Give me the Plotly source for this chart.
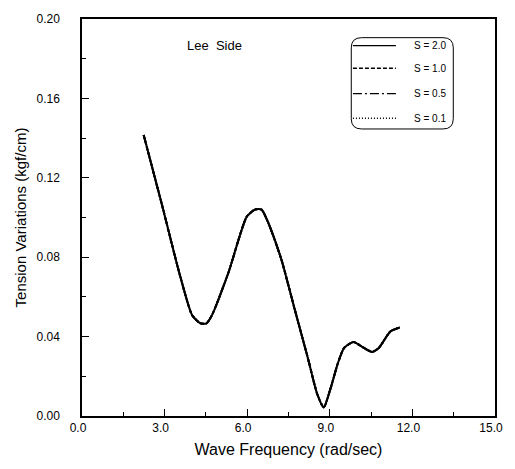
import plotly.graph_objects as go

# Data
freq = [2.24, 2.93, 3.53, 4.0, 4.3, 4.52, 4.72, 5.32, 5.98, 6.28, 6.52, 6.76, 7.24,
        7.72, 8.2, 8.54, 8.78, 9.04, 9.28, 9.52, 9.86, 10.24, 10.54, 10.78, 11.2, 11.54]
s20 = [0.1416, 0.105, 0.0723, 0.0508, 0.0467, 0.0467, 0.0508, 0.0723, 0.1003, 0.104,
       0.104, 0.0975, 0.0789, 0.054, 0.0294, 0.0112, 0.0043, 0.0145, 0.026, 0.0343,
       0.0373, 0.0343, 0.0323, 0.0343, 0.0426, 0.0446]
# the other series coincide with S = 2.0 in the picture
s10 = list(s20)
s05 = list(s20)
s01 = list(s20)

series_names = ["S = 2.0", "S = 1.0", "S = 0.5", "S = 0.1"]
series_vals = [s20, s10, s05, s01]
dashes = ["solid", "4px,2px", "9px,3px,2px,3px", "1px,2px"]

x_ticks = [0, 3, 6, 9, 12, 15]
x_ticklabels = ["0.0", "3.0", "6.0", "9.0", "12.0", "15.0"]
y_ticks = [0, 0.04, 0.08, 0.12, 0.16, 0.20]
y_ticklabels = ["0.00", "0.04", "0.08", "0.12", "0.16", "0.20"]

FONT = "Liberation Sans Narrow, Arial Narrow, Liberation Sans, Arial, sans-serif"
FONT2 = "Liberation Sans, Arial, sans-serif"

fig = go.Figure()
for i in reversed(range(4)):
    fig.add_trace(go.Scatter(
        x=freq, y=series_vals[i], mode="lines", name=series_names[i],
        line=dict(color="black", width=2, dash=dashes[i], shape="spline", smoothing=0.6),
        showlegend=False,
    ))

fig.update_layout(
    width=515, height=469,
    margin=dict(l=82, r=16, t=12, b=53),
    paper_bgcolor="white", plot_bgcolor="white",
    showlegend=False,
    font=dict(family=FONT2, color="black"),
)

fig.update_xaxes(
    range=[0, 15], tickvals=x_ticks, ticktext=x_ticklabels,
    showline=True, linecolor="black", linewidth=1.5, mirror=True,
    ticks="inside", ticklen=7, tickwidth=1.2, tickcolor="black",
    minor=dict(dtick=1.5, ticks="inside", ticklen=4, tickwidth=1, tickcolor="black"),
    showgrid=False, zeroline=False,
    tickfont=dict(family=FONT, size=12, color="black"),
    ticklabelshift=-4,
    title=dict(text="Wave Frequency (rad/sec)", font=dict(family=FONT2, size=16), standoff=10),
)
fig.update_yaxes(
    range=[0, 0.20], tickvals=y_ticks, ticktext=y_ticklabels,
    showline=True, linecolor="black", linewidth=1.5, mirror=True,
    ticks="inside", ticklen=7, tickwidth=1.2, tickcolor="black",
    minor=dict(dtick=0.02, ticks="inside", ticklen=4, tickwidth=1, tickcolor="black"),
    showgrid=False, zeroline=False,
    tickfont=dict(family=FONT, size=12, color="black"),
    ticklabelstandoff=18,
    title=dict(text="Tension Variations (kgf/cm)", font=dict(family=FONT2, size=15), standoff=6),
)

# legend (drawn manually to match the framed legend of the reference)
x0, x1, y0, y1, r = 0.652, 0.899, 0.723, 0.953, 0.025
ry = r * 417 / 404
path = (f"M {x0+r},{y1} L {x1-r},{y1} Q {x1},{y1} {x1},{y1-ry} "
        f"L {x1},{y0+ry} Q {x1},{y0} {x1-r},{y0} L {x0+r},{y0} "
        f"Q {x0},{y0} {x0},{y0+ry} L {x0},{y1-ry} Q {x0},{y1} {x0+r},{y1} Z")
fig.add_shape(type="path", path=path, xref="paper", yref="paper",
              line=dict(color="black", width=1))
legend_rows = [0.933, 0.876, 0.812, 0.750]
for name, dash, yy in zip(series_names, dashes, legend_rows):
    fig.add_shape(type="line", xref="paper", yref="paper", x0=0.656, x1=0.760, y0=yy, y1=yy,
                  line=dict(color="black", width=1.3, dash=dash))
    fig.add_annotation(text=name, xref="paper", yref="paper", x=0.799, y=yy,
                       xanchor="left", yanchor="middle", showarrow=False,
                       font=dict(family=FONT2, size=10, color="black"))

fig.add_annotation(text="Lee  Side", xref="paper", yref="paper", x=0.322, y=0.934,
                   xanchor="center", yanchor="middle",
                   showarrow=False, font=dict(family=FONT2, size=13, color="black"))

fig.write_html("out.html")
